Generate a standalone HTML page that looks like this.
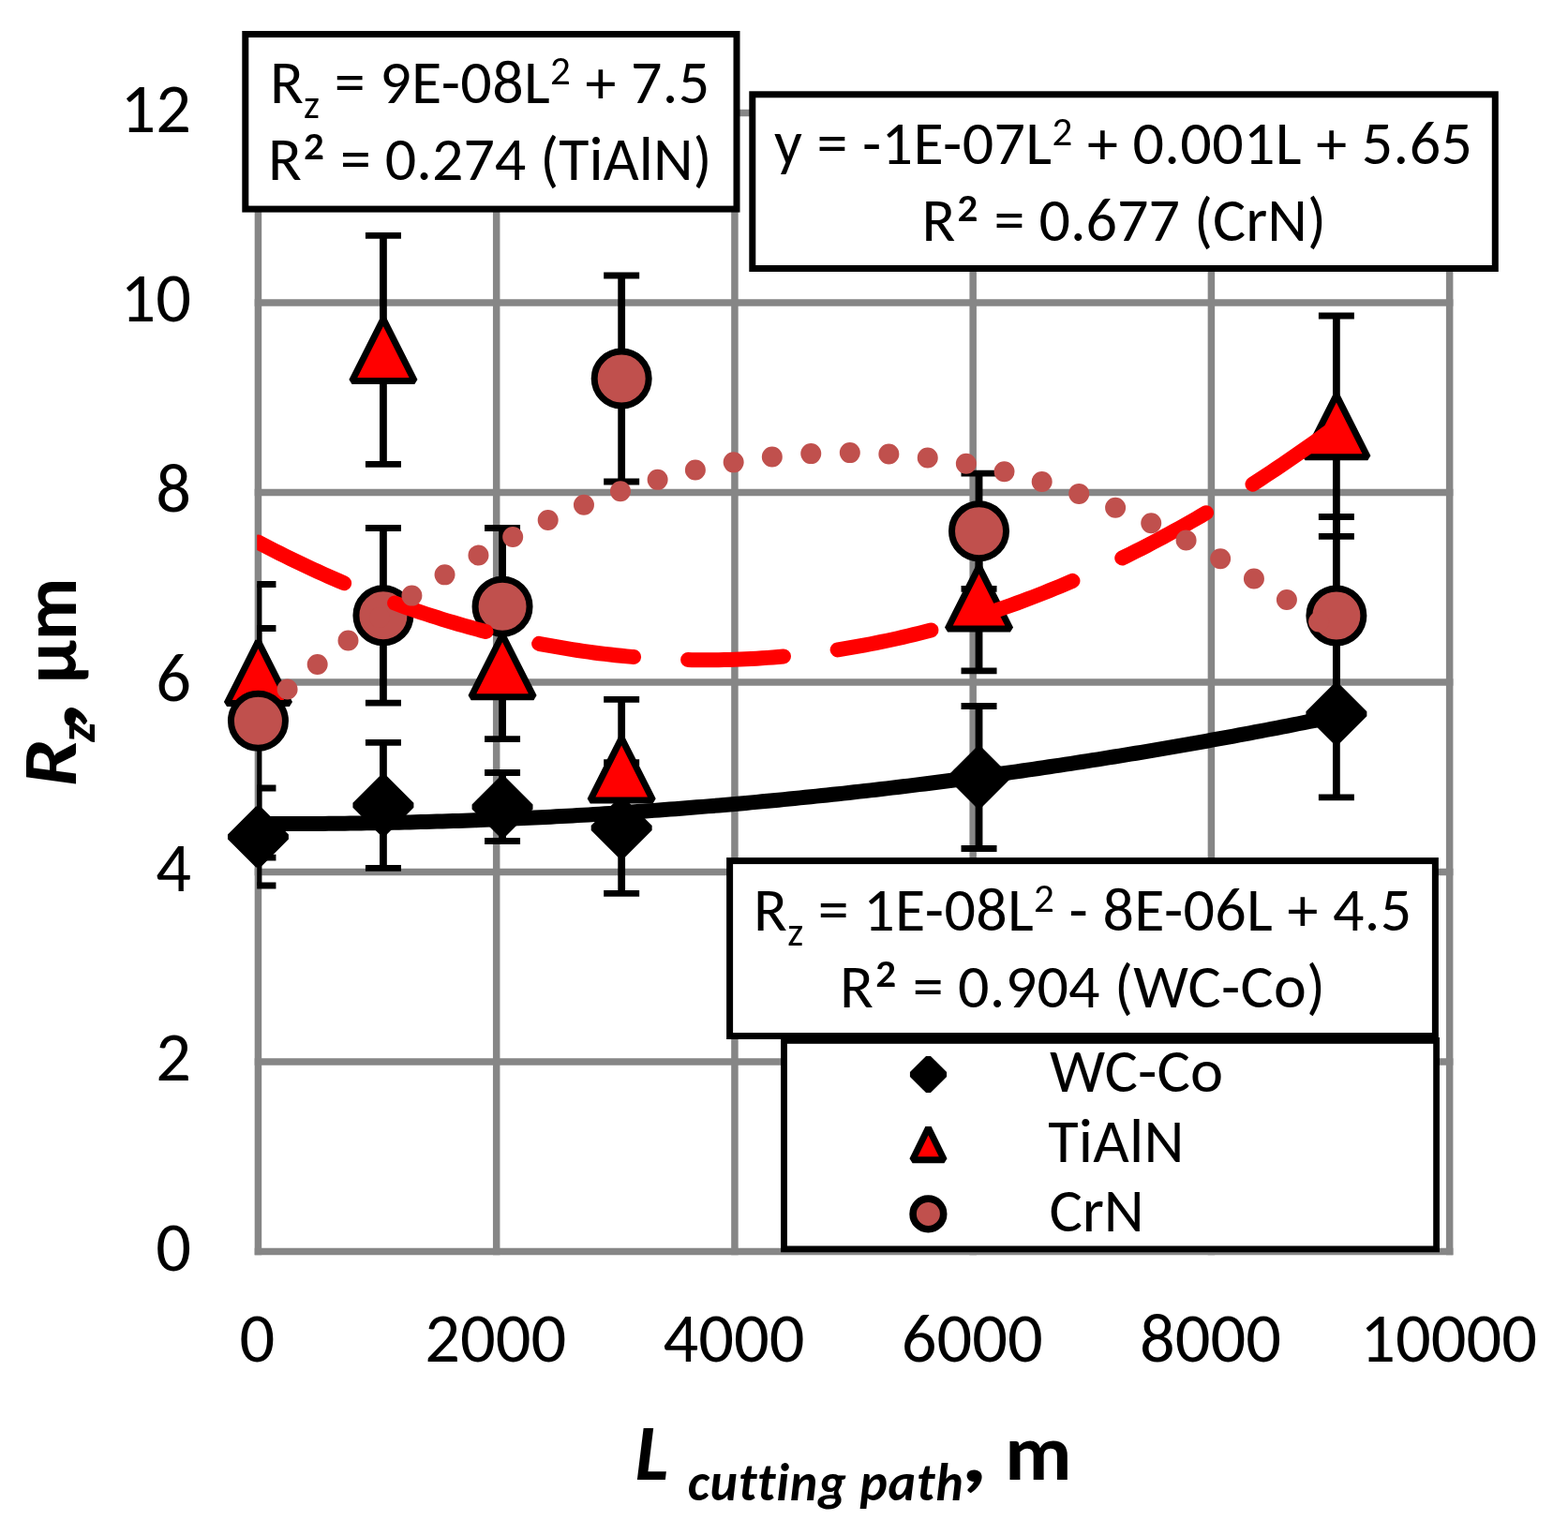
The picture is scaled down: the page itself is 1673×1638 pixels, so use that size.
<!DOCTYPE html>
<html><head><meta charset="utf-8"><title>Rz vs cutting path</title>
<style>html,body{margin:0;padding:0;background:#fff;}svg{display:block;font-variant-ligatures:none;font-kerning:normal;}.fa{font-size-adjust:cap-height 0.6416015625}.fb{font-size-adjust:cap-height 0.6484375}</style>
</head><body><svg width="1673" height="1638" viewBox="0 0 1673 1638"><rect width="100%" height="100%" fill="#fff"/><g stroke="#868686" stroke-width="7.5"><line x1="275.45" y1="116.65" x2="275.45" y2="1339.15"/><line x1="529.69" y1="116.65" x2="529.69" y2="1339.15"/><line x1="783.93" y1="116.65" x2="783.93" y2="1339.15"/><line x1="1038.17" y1="116.65" x2="1038.17" y2="1339.15"/><line x1="1292.41" y1="116.65" x2="1292.41" y2="1339.15"/><line x1="1546.65" y1="116.65" x2="1546.65" y2="1339.15"/><line x1="271.7" y1="1335.4" x2="1550.4" y2="1335.4"/><line x1="271.7" y1="1132.9" x2="1550.4" y2="1132.9"/><line x1="271.7" y1="930.4" x2="1550.4" y2="930.4"/><line x1="271.7" y1="727.9" x2="1550.4" y2="727.9"/><line x1="271.7" y1="525.4" x2="1550.4" y2="525.4"/><line x1="271.7" y1="322.9" x2="1550.4" y2="322.9"/><line x1="271.7" y1="120.4" x2="1550.4" y2="120.4"/></g><defs><clipPath id="pa"><rect x="274.2" y="100" width="1290" height="1245"/></clipPath></defs><g clip-path="url(#pa)" stroke="#000"><line x1="275.45" y1="841" x2="275.45" y2="945" stroke-width="7.8"/><line x1="256.45" y1="841" x2="294.45" y2="841" stroke-width="6.8"/><line x1="256.45" y1="945" x2="294.45" y2="945" stroke-width="6.8"/><line x1="408.93" y1="792.3" x2="408.93" y2="926.3" stroke-width="7.8"/><line x1="389.93" y1="792.3" x2="427.93" y2="792.3" stroke-width="6.8"/><line x1="389.93" y1="926.3" x2="427.93" y2="926.3" stroke-width="6.8"/><line x1="536.05" y1="824.5" x2="536.05" y2="897.5" stroke-width="7.8"/><line x1="517.05" y1="824.5" x2="555.05" y2="824.5" stroke-width="6.8"/><line x1="517.05" y1="897.5" x2="555.05" y2="897.5" stroke-width="6.8"/><line x1="663.17" y1="813.7" x2="663.17" y2="953.3" stroke-width="7.8"/><line x1="644.17" y1="813.7" x2="682.17" y2="813.7" stroke-width="6.8"/><line x1="644.17" y1="953.3" x2="682.17" y2="953.3" stroke-width="6.8"/><line x1="1044.53" y1="753.5" x2="1044.53" y2="905.5" stroke-width="7.8"/><line x1="1025.53" y1="753.5" x2="1063.53" y2="753.5" stroke-width="6.8"/><line x1="1025.53" y1="905.5" x2="1063.53" y2="905.5" stroke-width="6.8"/><line x1="1425.89" y1="672.5" x2="1425.89" y2="850.9" stroke-width="7.8"/><line x1="1406.89" y1="672.5" x2="1444.89" y2="672.5" stroke-width="6.8"/><line x1="1406.89" y1="850.9" x2="1444.89" y2="850.9" stroke-width="6.8"/><line x1="275.45" y1="670.5" x2="275.45" y2="764.5" stroke-width="7.8"/><line x1="256.45" y1="670.5" x2="294.45" y2="670.5" stroke-width="6.8"/><line x1="256.45" y1="764.5" x2="294.45" y2="764.5" stroke-width="6.8"/><line x1="408.93" y1="251.45" x2="408.93" y2="495.45" stroke-width="7.8"/><line x1="389.93" y1="251.45" x2="427.93" y2="251.45" stroke-width="6.8"/><line x1="389.93" y1="495.45" x2="427.93" y2="495.45" stroke-width="6.8"/><line x1="536.05" y1="632.6" x2="536.05" y2="788.6" stroke-width="7.8"/><line x1="517.05" y1="632.6" x2="555.05" y2="632.6" stroke-width="6.8"/><line x1="517.05" y1="788.6" x2="555.05" y2="788.6" stroke-width="6.8"/><line x1="663.17" y1="746.4" x2="663.17" y2="895.2" stroke-width="7.8"/><line x1="644.17" y1="746.4" x2="682.17" y2="746.4" stroke-width="6.8"/><line x1="644.17" y1="895.2" x2="682.17" y2="895.2" stroke-width="6.8"/><line x1="1044.53" y1="559.9" x2="1044.53" y2="715.9" stroke-width="7.8"/><line x1="1025.53" y1="559.9" x2="1063.53" y2="559.9" stroke-width="6.8"/><line x1="1025.53" y1="715.9" x2="1063.53" y2="715.9" stroke-width="6.8"/><line x1="1425.89" y1="337" x2="1425.89" y2="572.4" stroke-width="7.8"/><line x1="1406.89" y1="337" x2="1444.89" y2="337" stroke-width="6.8"/><line x1="1406.89" y1="572.4" x2="1444.89" y2="572.4" stroke-width="6.8"/><line x1="275.45" y1="623.5" x2="275.45" y2="915.1" stroke-width="7.8"/><line x1="256.45" y1="623.5" x2="294.45" y2="623.5" stroke-width="6.8"/><line x1="256.45" y1="915.1" x2="294.45" y2="915.1" stroke-width="6.8"/><line x1="408.93" y1="563.5" x2="408.93" y2="750.1" stroke-width="7.8"/><line x1="389.93" y1="563.5" x2="427.93" y2="563.5" stroke-width="6.8"/><line x1="389.93" y1="750.1" x2="427.93" y2="750.1" stroke-width="6.8"/><line x1="536.05" y1="563.5" x2="536.05" y2="730.9" stroke-width="7.8"/><line x1="517.05" y1="563.5" x2="555.05" y2="563.5" stroke-width="6.8"/><line x1="517.05" y1="730.9" x2="555.05" y2="730.9" stroke-width="6.8"/><line x1="663.17" y1="294" x2="663.17" y2="514" stroke-width="7.8"/><line x1="644.17" y1="294" x2="682.17" y2="294" stroke-width="6.8"/><line x1="644.17" y1="514" x2="682.17" y2="514" stroke-width="6.8"/><line x1="1044.53" y1="505.1" x2="1044.53" y2="628.3" stroke-width="7.8"/><line x1="1025.53" y1="505.1" x2="1063.53" y2="505.1" stroke-width="6.8"/><line x1="1025.53" y1="628.3" x2="1063.53" y2="628.3" stroke-width="6.8"/><line x1="1425.89" y1="551.5" x2="1425.89" y2="762.5" stroke-width="7.8"/><line x1="1406.89" y1="551.5" x2="1444.89" y2="551.5" stroke-width="6.8"/><line x1="1406.89" y1="762.5" x2="1444.89" y2="762.5" stroke-width="6.8"/></g><path d="M275.45 863L305.45 893L275.45 923L245.45 893Z" fill="#000" stroke="#000" stroke-width="7" stroke-linejoin="bevel"/><path d="M408.93 829.3L438.93 859.3L408.93 889.3L378.93 859.3Z" fill="#000" stroke="#000" stroke-width="7" stroke-linejoin="bevel"/><path d="M536.05 831L566.05 861L536.05 891L506.05 861Z" fill="#000" stroke="#000" stroke-width="7" stroke-linejoin="bevel"/><path d="M663.17 853.5L693.17 883.5L663.17 913.5L633.17 883.5Z" fill="#000" stroke="#000" stroke-width="7" stroke-linejoin="bevel"/><path d="M1044.53 799.5L1074.53 829.5L1044.53 859.5L1014.53 829.5Z" fill="#000" stroke="#000" stroke-width="7" stroke-linejoin="bevel"/><path d="M1425.89 731.7L1455.89 761.7L1425.89 791.7L1395.89 761.7Z" fill="#000" stroke="#000" stroke-width="7" stroke-linejoin="bevel"/><path d="M275.45 684.4L308.85 750.6L242.05 750.6Z" fill="#FF0000" stroke="#000" stroke-width="7" stroke-linejoin="bevel"/><path d="M408.93 340.35L442.33 406.55L375.53 406.55Z" fill="#FF0000" stroke="#000" stroke-width="7" stroke-linejoin="bevel"/><path d="M536.05 677.5L569.45 743.7L502.65 743.7Z" fill="#FF0000" stroke="#000" stroke-width="7" stroke-linejoin="bevel"/><path d="M663.17 787.7L696.57 853.9L629.77 853.9Z" fill="#FF0000" stroke="#000" stroke-width="7" stroke-linejoin="bevel"/><path d="M1044.53 604.8L1077.93 671L1011.13 671Z" fill="#FF0000" stroke="#000" stroke-width="7" stroke-linejoin="bevel"/><path d="M1425.89 421.6L1459.29 487.8L1392.49 487.8Z" fill="#FF0000" stroke="#000" stroke-width="7" stroke-linejoin="bevel"/><circle cx="275.45" cy="769.3" r="29" fill="#C0504D" stroke="#000" stroke-width="7"/><circle cx="408.93" cy="656.8" r="29" fill="#C0504D" stroke="#000" stroke-width="7"/><circle cx="536.05" cy="647.2" r="29" fill="#C0504D" stroke="#000" stroke-width="7"/><circle cx="663.17" cy="404" r="29" fill="#C0504D" stroke="#000" stroke-width="7"/><circle cx="1044.53" cy="566.7" r="29" fill="#C0504D" stroke="#000" stroke-width="7"/><circle cx="1425.89" cy="657" r="29" fill="#C0504D" stroke="#000" stroke-width="7"/><g clip-path="url(#pa)"><path d="M275.45 878.99 L281.23 879.01 L287.01 879.03 L292.79 879.05 L298.57 879.05 L304.36 879.06 L310.14 879.05 L315.92 879.04 L321.7 879.02 L327.48 879 L333.26 878.97 L339.04 878.94 L344.82 878.89 L350.6 878.85 L356.39 878.79 L362.17 878.73 L367.95 878.67 L373.73 878.6 L379.51 878.52 L385.29 878.43 L391.07 878.34 L396.85 878.25 L402.63 878.15 L408.41 878.04 L414.2 877.92 L419.98 877.8 L425.76 877.68 L431.54 877.54 L437.32 877.4 L443.1 877.26 L448.88 877.11 L454.66 876.95 L460.44 876.79 L466.23 876.62 L472.01 876.44 L477.79 876.26 L483.57 876.07 L489.35 875.88 L495.13 875.68 L500.91 875.48 L506.69 875.26 L512.47 875.05 L518.26 874.82 L524.04 874.59 L529.82 874.36 L535.6 874.11 L541.38 873.87 L547.16 873.61 L552.94 873.35 L558.72 873.08 L564.5 872.81 L570.29 872.53 L576.07 872.25 L581.85 871.96 L587.63 871.66 L593.41 871.36 L599.19 871.05 L604.97 870.73 L610.75 870.41 L616.53 870.08 L622.32 869.75 L628.1 869.41 L633.88 869.06 L639.66 868.71 L645.44 868.35 L651.22 867.99 L657 867.62 L662.78 867.24 L668.56 866.86 L674.34 866.47 L680.13 866.08 L685.91 865.68 L691.69 865.27 L697.47 864.86 L703.25 864.44 L709.03 864.01 L714.81 863.58 L720.59 863.15 L726.37 862.7 L732.16 862.25 L737.94 861.8 L743.72 861.34 L749.5 860.87 L755.28 860.4 L761.06 859.92 L766.84 859.43 L772.62 858.94 L778.4 858.44 L784.19 857.94 L789.97 857.43 L795.75 856.91 L801.53 856.39 L807.31 855.86 L813.09 855.32 L818.87 854.78 L824.65 854.24 L830.43 853.68 L836.22 853.12 L842 852.56 L847.78 851.99 L853.56 851.41 L859.34 850.83 L865.12 850.24 L870.9 849.64 L876.68 849.04 L882.46 848.43 L888.25 847.82 L894.03 847.2 L899.81 846.58 L905.59 845.94 L911.37 845.31 L917.15 844.66 L922.93 844.01 L928.71 843.35 L934.49 842.69 L940.27 842.02 L946.06 841.35 L951.84 840.67 L957.62 839.98 L963.4 839.29 L969.18 838.59 L974.96 837.88 L980.74 837.17 L986.52 836.46 L992.3 835.73 L998.09 835 L1003.87 834.27 L1009.65 833.53 L1015.43 832.78 L1021.21 832.03 L1026.99 831.27 L1032.77 830.5 L1038.55 829.73 L1044.33 828.95 L1050.12 828.17 L1055.9 827.38 L1061.68 826.58 L1067.46 825.78 L1073.24 824.97 L1079.02 824.15 L1084.8 823.33 L1090.58 822.51 L1096.36 821.67 L1102.15 820.83 L1107.93 819.99 L1113.71 819.14 L1119.49 818.28 L1125.27 817.42 L1131.05 816.55 L1136.83 815.67 L1142.61 814.79 L1148.39 813.9 L1154.17 813.01 L1159.96 812.11 L1165.74 811.2 L1171.52 810.29 L1177.3 809.37 L1183.08 808.45 L1188.86 807.52 L1194.64 806.58 L1200.42 805.64 L1206.2 804.69 L1211.99 803.74 L1217.77 802.78 L1223.55 801.81 L1229.33 800.84 L1235.11 799.86 L1240.89 798.87 L1246.67 797.88 L1252.45 796.88 L1258.23 795.88 L1264.02 794.87 L1269.8 793.85 L1275.58 792.83 L1281.36 791.81 L1287.14 790.77 L1292.92 789.73 L1298.7 788.69 L1304.48 787.63 L1310.26 786.58 L1316.05 785.51 L1321.83 784.44 L1327.61 783.36 L1333.39 782.28 L1339.17 781.19 L1344.95 780.1 L1350.73 779 L1356.51 777.89 L1362.29 776.78 L1368.08 775.66 L1373.86 774.53 L1379.64 773.4 L1385.42 772.27 L1391.2 771.12 L1396.98 769.97 L1402.76 768.82 L1408.54 767.65 L1414.32 766.49 L1420.1 765.31 L1425.89 764.13" fill="none" stroke="#000" stroke-width="16"/><path d="M275.45 578.63 L281.23 581.66 L287.01 584.64 L292.79 587.59 L298.57 590.51 L304.36 593.38 L310.14 596.22 L315.92 599.02 L321.7 601.79 L327.48 604.52 L333.26 607.21 L339.04 609.87 L344.82 612.49 L350.6 615.07 L356.39 617.61 L362.17 620.12 L367.95 622.59 L373.73 625.03 L379.51 627.42 L385.29 629.78 L391.07 632.11 L396.85 634.4 L402.63 636.65 L408.41 638.86 L414.2 641.04 L419.98 643.18 L425.76 645.28 L431.54 647.34 L437.32 649.37 L443.1 651.37 L448.88 653.32 L454.66 655.24 L460.44 657.12 L466.23 658.97 L472.01 660.78 L477.79 662.55 L483.57 664.28 L489.35 665.98 L495.13 667.64 L500.91 669.27 L506.69 670.85 L512.47 672.4 L518.26 673.92 L524.04 675.39 L529.82 676.83 L535.6 678.24 L541.38 679.6 L547.16 680.93 L552.94 682.23 L558.72 683.48 L564.5 684.7 L570.29 685.88 L576.07 687.03 L581.85 688.14 L587.63 689.21 L593.41 690.24 L599.19 691.24 L604.97 692.2 L610.75 693.13 L616.53 694.02 L622.32 694.87 L628.1 695.68 L633.88 696.46 L639.66 697.2 L645.44 697.9 L651.22 698.57 L657 699.2 L662.78 699.79 L668.56 700.35 L674.34 700.87 L680.13 701.35 L685.91 701.8 L691.69 702.2 L697.47 702.58 L703.25 702.91 L709.03 703.21 L714.81 703.47 L720.59 703.7 L726.37 703.89 L732.16 704.04 L737.94 704.15 L743.72 704.23 L749.5 704.27 L755.28 704.27 L761.06 704.24 L766.84 704.17 L772.62 704.06 L778.4 703.92 L784.19 703.74 L789.97 703.52 L795.75 703.27 L801.53 702.98 L807.31 702.65 L813.09 702.29 L818.87 701.88 L824.65 701.45 L830.43 700.97 L836.22 700.46 L842 699.91 L847.78 699.33 L853.56 698.7 L859.34 698.04 L865.12 697.35 L870.9 696.62 L876.68 695.85 L882.46 695.04 L888.25 694.2 L894.03 693.32 L899.81 692.4 L905.59 691.45 L911.37 690.46 L917.15 689.43 L922.93 688.37 L928.71 687.26 L934.49 686.13 L940.27 684.95 L946.06 683.74 L951.84 682.49 L957.62 681.21 L963.4 679.89 L969.18 678.53 L974.96 677.13 L980.74 675.7 L986.52 674.23 L992.3 672.72 L998.09 671.18 L1003.87 669.6 L1009.65 667.98 L1015.43 666.33 L1021.21 664.64 L1026.99 662.91 L1032.77 661.15 L1038.55 659.35 L1044.33 657.51 L1050.12 655.64 L1055.9 653.73 L1061.68 651.78 L1067.46 649.79 L1073.24 647.77 L1079.02 645.71 L1084.8 643.62 L1090.58 641.49 L1096.36 639.32 L1102.15 637.11 L1107.93 634.87 L1113.71 632.59 L1119.49 630.27 L1125.27 627.92 L1131.05 625.53 L1136.83 623.1 L1142.61 620.64 L1148.39 618.14 L1154.17 615.6 L1159.96 613.03 L1165.74 610.42 L1171.52 607.77 L1177.3 605.09 L1183.08 602.36 L1188.86 599.61 L1194.64 596.81 L1200.42 593.98 L1206.2 591.11 L1211.99 588.21 L1217.77 585.26 L1223.55 582.28 L1229.33 579.27 L1235.11 576.22 L1240.89 573.13 L1246.67 570 L1252.45 566.84 L1258.23 563.64 L1264.02 560.4 L1269.8 557.13 L1275.58 553.82 L1281.36 550.47 L1287.14 547.08 L1292.92 543.66 L1298.7 540.21 L1304.48 536.71 L1310.26 533.18 L1316.05 529.61 L1321.83 526.01 L1327.61 522.36 L1333.39 518.69 L1339.17 514.97 L1344.95 511.22 L1350.73 507.43 L1356.51 503.6 L1362.29 499.74 L1368.08 495.84 L1373.86 491.9 L1379.64 487.93 L1385.42 483.92 L1391.2 479.87 L1396.98 475.79 L1402.76 471.67 L1408.54 467.51 L1414.32 463.32 L1420.1 459.08 L1425.89 454.82" fill="none" stroke="#FF0000" stroke-width="16" stroke-linecap="round" stroke-dasharray="102 58.1" stroke-dashoffset="0.46"/><path d="M275.45 762.58 L281.23 757.45 L287.01 752.37 L292.79 747.34 L298.57 742.36 L304.36 737.42 L310.14 732.53 L315.92 727.69 L321.7 722.9 L327.48 718.15 L333.26 713.45 L339.04 708.8 L344.82 704.19 L350.6 699.64 L356.39 695.13 L362.17 690.66 L367.95 686.25 L373.73 681.88 L379.51 677.56 L385.29 673.29 L391.07 669.07 L396.85 664.89 L402.63 660.76 L408.41 656.68 L414.2 652.64 L419.98 648.65 L425.76 644.71 L431.54 640.82 L437.32 636.98 L443.1 633.18 L448.88 629.43 L454.66 625.73 L460.44 622.07 L466.23 618.46 L472.01 614.9 L477.79 611.39 L483.57 607.92 L489.35 604.5 L495.13 601.13 L500.91 597.81 L506.69 594.54 L512.47 591.31 L518.26 588.13 L524.04 584.99 L529.82 581.91 L535.6 578.87 L541.38 575.88 L547.16 572.93 L552.94 570.04 L558.72 567.19 L564.5 564.39 L570.29 561.63 L576.07 558.93 L581.85 556.27 L587.63 553.66 L593.41 551.09 L599.19 548.58 L604.97 546.11 L610.75 543.69 L616.53 541.31 L622.32 538.98 L628.1 536.71 L633.88 534.47 L639.66 532.29 L645.44 530.15 L651.22 528.06 L657 526.02 L662.78 524.03 L668.56 522.08 L674.34 520.18 L680.13 518.33 L685.91 516.52 L691.69 514.77 L697.47 513.06 L703.25 511.39 L709.03 509.78 L714.81 508.21 L720.59 506.69 L726.37 505.22 L732.16 503.79 L737.94 502.42 L743.72 501.08 L749.5 499.8 L755.28 498.57 L761.06 497.38 L766.84 496.24 L772.62 495.15 L778.4 494.1 L784.19 493.1 L789.97 492.15 L795.75 491.25 L801.53 490.39 L807.31 489.58 L813.09 488.82 L818.87 488.11 L824.65 487.44 L830.43 486.83 L836.22 486.25 L842 485.73 L847.78 485.25 L853.56 484.83 L859.34 484.44 L865.12 484.11 L870.9 483.82 L876.68 483.59 L882.46 483.39 L888.25 483.25 L894.03 483.15 L899.81 483.11 L905.59 483.1 L911.37 483.15 L917.15 483.24 L922.93 483.38 L928.71 483.57 L934.49 483.81 L940.27 484.09 L946.06 484.42 L951.84 484.8 L957.62 485.22 L963.4 485.7 L969.18 486.22 L974.96 486.79 L980.74 487.4 L986.52 488.06 L992.3 488.77 L998.09 489.53 L1003.87 490.34 L1009.65 491.19 L1015.43 492.09 L1021.21 493.04 L1026.99 494.03 L1032.77 495.07 L1038.55 496.16 L1044.33 497.3 L1050.12 498.49 L1055.9 499.72 L1061.68 501 L1067.46 502.32 L1073.24 503.7 L1079.02 505.12 L1084.8 506.59 L1090.58 508.11 L1096.36 509.67 L1102.15 511.28 L1107.93 512.94 L1113.71 514.65 L1119.49 516.4 L1125.27 518.2 L1131.05 520.05 L1136.83 521.95 L1142.61 523.89 L1148.39 525.89 L1154.17 527.92 L1159.96 530.01 L1165.74 532.14 L1171.52 534.33 L1177.3 536.55 L1183.08 538.83 L1188.86 541.15 L1194.64 543.53 L1200.42 545.94 L1206.2 548.41 L1211.99 550.92 L1217.77 553.48 L1223.55 556.09 L1229.33 558.75 L1235.11 561.45 L1240.89 564.2 L1246.67 567 L1252.45 569.84 L1258.23 572.74 L1264.02 575.68 L1269.8 578.67 L1275.58 581.7 L1281.36 584.78 L1287.14 587.91 L1292.92 591.09 L1298.7 594.32 L1304.48 597.59 L1310.26 600.91 L1316.05 604.28 L1321.83 607.69 L1327.61 611.15 L1333.39 614.66 L1339.17 618.22 L1344.95 621.83 L1350.73 625.48 L1356.51 629.18 L1362.29 632.93 L1368.08 636.72 L1373.86 640.56 L1379.64 644.45 L1385.42 648.39 L1391.2 652.37 L1396.98 656.4 L1402.76 660.48 L1408.54 664.61 L1414.32 668.78 L1420.1 673.01 L1425.89 677.28" fill="none" stroke="#C0504D" stroke-width="22" stroke-linecap="round" stroke-dasharray="0 41.58" stroke-dashoffset="0.335"/></g><g class="fa" font-family="Carlito, 'Liberation Sans', sans-serif" font-size="74.5" fill="#000"><text x="204" y="1355.8" text-anchor="end" textLength="37.77" lengthAdjust="spacingAndGlyphs">0</text><text x="204" y="1153.3" text-anchor="end" textLength="37.77" lengthAdjust="spacingAndGlyphs">2</text><text x="204" y="950.8" text-anchor="end" textLength="37.77" lengthAdjust="spacingAndGlyphs">4</text><text x="204" y="748.3" text-anchor="end" textLength="37.77" lengthAdjust="spacingAndGlyphs">6</text><text x="204" y="545.8" text-anchor="end" textLength="37.77" lengthAdjust="spacingAndGlyphs">8</text><text x="204" y="343.3" text-anchor="end" textLength="75.53" lengthAdjust="spacingAndGlyphs">10</text><text x="204" y="140.8" text-anchor="end" textLength="75.53" lengthAdjust="spacingAndGlyphs">12</text><text x="274.45" y="1453.3" text-anchor="middle" textLength="37.77" lengthAdjust="spacingAndGlyphs">0</text><text x="528.69" y="1453.3" text-anchor="middle" textLength="151.05" lengthAdjust="spacingAndGlyphs">2000</text><text x="782.93" y="1453.3" text-anchor="middle" textLength="151.05" lengthAdjust="spacingAndGlyphs">4000</text><text x="1037.17" y="1453.3" text-anchor="middle" textLength="151.05" lengthAdjust="spacingAndGlyphs">6000</text><text x="1291.41" y="1453.3" text-anchor="middle" textLength="151.05" lengthAdjust="spacingAndGlyphs">8000</text><text x="1545.65" y="1453.3" text-anchor="middle" textLength="188.8" lengthAdjust="spacingAndGlyphs">10000</text></g><g class="fa" font-family="Carlito, 'Liberation Sans', sans-serif" fill="#000"><rect x="261.8" y="36.5" width="524.2" height="186.6" fill="#fff" stroke="#000" stroke-width="7"/><text id="b1l1" x="287.9" y="109.8" font-size="66" textLength="469.41" lengthAdjust="spacing">R<tspan font-size="43" dy="15.8">z</tspan><tspan dy="-15.8"> = 9E-08L</tspan><tspan font-size="43" dy="-20.2">2</tspan><tspan dy="20.2"> + 7.5</tspan></text><text id="b1l2" x="286" y="191.6" font-size="66" textLength="473.62" lengthAdjust="spacing">R<tspan font-size="78" dy="11.1">²</tspan><tspan dy="-11.1"> = 0.274 (TiAlN)</tspan></text><rect x="802.8" y="100.8" width="792.5" height="185.7" fill="#fff" stroke="#000" stroke-width="7"/><text id="b2l1" x="825.9" y="175.2" font-size="66" textLength="745.02" lengthAdjust="spacing"><tspan>y = -1E-07L</tspan><tspan font-size="43" dy="-20.2">2</tspan><tspan dy="20.2"> + 0.001L + 5.65</tspan></text><text id="b2l2" x="983.5" y="257.4" font-size="66" textLength="431.48" lengthAdjust="spacing">R<tspan font-size="78" dy="11.1">²</tspan><tspan dy="-11.1"> = 0.677 (CrN)</tspan></text><rect x="778.6" y="918.6" width="752.8" height="186.9" fill="#fff" stroke="#000" stroke-width="7"/><text id="b3l1" x="804" y="992.9" font-size="66" textLength="702.23" lengthAdjust="spacing">R<tspan font-size="43" dy="15.8">z</tspan><tspan dy="-15.8"> = 1E-08L</tspan><tspan font-size="43" dy="-20.2">2</tspan><tspan dy="20.2"> - 8E-06L + 4.5</tspan></text><text id="b3l2" x="896" y="1074.6" font-size="66" textLength="517.98" lengthAdjust="spacing">R<tspan font-size="78" dy="11.1">²</tspan><tspan dy="-11.1"> = 0.904 (WC-Co)</tspan></text></g><g class="fa" font-family="Carlito, 'Liberation Sans', sans-serif" fill="#000"><rect x="836.5" y="1110.4" width="696.1" height="222.5" fill="#fff" stroke="#000" stroke-width="6.8"/><path d="M990.5 1129.4L1007.6 1146.5L990.5 1163.6L973.4 1146.5Z" fill="#000" stroke="#000" stroke-width="7" stroke-linejoin="bevel"/><path d="M990.5 1203.5L1007.4 1237.8L973.6 1237.8Z" fill="#FF0000" stroke="#000" stroke-width="7" stroke-linejoin="bevel"/><circle cx="990.4" cy="1295.4" r="16.3" fill="#C0504D" stroke="#000" stroke-width="7.6"/><text id="lg1" x="1119.9" y="1164.7" font-size="66.5" textLength="185.3" lengthAdjust="spacing">WC-Co</text><text id="lg2" x="1118.2" y="1239.9" font-size="66.5" textLength="145.34" lengthAdjust="spacing">TiAlN</text><text id="lg3" x="1119.6" y="1314.2" font-size="66.5" textLength="101.18" lengthAdjust="spacing">CrN</text></g><g class="fb" font-family="Carlito, 'Liberation Sans', sans-serif" fill="#000"><text x="677.4" y="1579.2" font-size="85" font-weight="bold" font-style="italic" textLength="35.95" lengthAdjust="spacingAndGlyphs">L</text><text x="733.7" y="1601.2" font-size="56" font-weight="bold" font-style="italic" textLength="294.1" lengthAdjust="spacing">cutting path</text><text transform="translate(1039.5 1580.5) scale(1.3 1.04)" style="font-size-adjust:none" x="-9.5" y="0" font-size="85" font-weight="bold" font-style="italic">,</text><text x="1071.9" y="1579.2" font-size="85" font-weight="bold" font-style="normal" textLength="71.58" lengthAdjust="spacingAndGlyphs">m</text><text transform="translate(81.2 839.4) rotate(-90)" font-size="82" font-weight="bold" font-style="italic" textLength="50.33" lengthAdjust="spacingAndGlyphs">R</text><text transform="translate(100.9 792) rotate(-90)" font-size="55" font-weight="bold" font-style="italic" textLength="21.88" lengthAdjust="spacingAndGlyphs">z</text><text transform="translate(81 764.9) rotate(-90) scale(1.6 1.08)" style="font-size-adjust:none" x="-9" y="0" font-size="82" font-weight="bold" font-style="italic">,</text><text transform="translate(81.2 729.4) rotate(-90)" font-size="82" font-weight="bold" font-style="normal" textLength="112.92" lengthAdjust="spacingAndGlyphs">µm</text></g></svg></body></html>
